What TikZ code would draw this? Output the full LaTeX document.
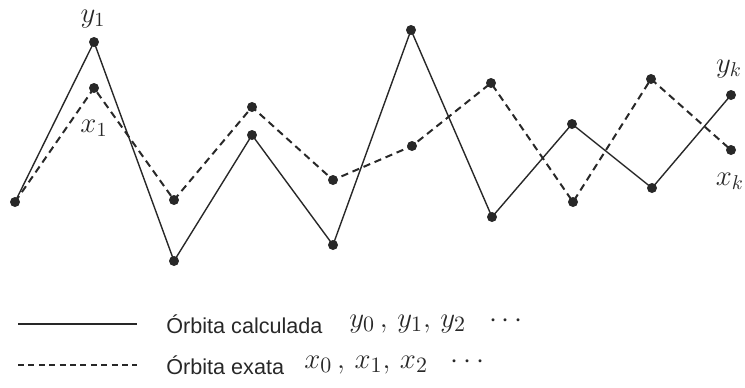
\documentclass[tikz,border=0pt]{standalone}
\usepackage{fontspec}
\usepackage{amsmath}
\newfontfamily\legendfont{Liberation Sans}
\usetikzlibrary{positioning,calc}
\definecolor{Odark}{RGB}{40, 40, 40}
\tikzset{
    orbpt/.style={
        circle, fill=Odark, draw=none, inner sep=0pt, minimum size=5pt
    },
    ocalc/.style={line width=0.7pt, Odark},
    oexact/.style={line width=1pt, Odark, dash pattern=on 3.6pt off 2.4pt},
    okey/.style={line width=1pt, Odark, dash pattern=on 3pt off 2.2pt},
    olab/.style={font=\Large, text=Odark, inner sep=0pt},
    otext/.style={font=\legendfont\fontsize{10.8}{13}\selectfont, text=Odark, anchor=west, inner sep=0pt},
    omath/.style={font=\fontsize{15}{18}\selectfont, text=Odark, anchor=west, inner sep=0pt},
}

\begin{document}
\begin{tikzpicture}[x=0.5pt, y=-0.5pt]

    \useasboundingbox (0,0) rectangle (745,387);

    % ── órbita calculada y ──────────────────────────────
    \node [orbpt] (y0) at (15,202) {};
    \node [orbpt] (y1) at (94,42)  {};
    \node [orbpt] (y2) at (174,261) {};
    \node [orbpt] (y3) at (252,135) {};
    \node [orbpt] (y4) at (333,245) {};
    \node [orbpt] (y5) at (411,30)  {};
    \node [orbpt] (y6) at (492,217) {};
    \node [orbpt] (y7) at (572,124) {};
    \node [orbpt] (y8) at (652,188) {};
    \node [orbpt] (y9) at (731,95)  {};

    % ── órbita exata x ──────────────────────────────────
    \coordinate (x0) at (y0);
    \node [orbpt] (x1) at (94,88)  {};
    \node [orbpt] (x2) at (174,200) {};
    \node [orbpt] (x3) at (252,107) {};
    \node [orbpt] (x4) at (333,180) {};
    \node [orbpt] (x5) at (412,146) {};
    \node [orbpt] (x6) at (491,83)  {};
    \node [orbpt] (x7) at (573,202) {};
    \node [orbpt] (x8) at (651,79)  {};
    \node [orbpt] (x9) at (731,150) {};

    % ── segmentos ───────────────────────────────────────
    \draw [ocalc] (y0.center) -- (y1.center) -- (y2.center) -- (y3.center) -- (y4.center)
        -- (y5.center) -- (y6.center) -- (y7.center) -- (y8.center) -- (y9.center);
    \draw [oexact] (x0) -- (x1.center) -- (x2.center) -- (x3.center) -- (x4.center)
        -- (x5.center) -- (x6.center) -- (x7.center) -- (x8.center) -- (x9.center);

    % ── rótulos ─────────────────────────────────────────
    \node [olab] (ly1) at (93,19)  {$y_1$};
    \node [olab] (lx1) at (94,128) {$x_1$};
    \node [olab] (lyk) at (729,69) {$y_k$};
    \node [olab] (lxk) at (730,181) {$x_k$};

    % ── legenda ─────────────────────────────────────────
    \coordinate (ka) at (18,324);
    \coordinate (kb) at (137,324);
    \coordinate (kc) at (18,365);
    \coordinate (kd) at (137,365);
    \draw [ocalc] (ka) -- (kb);
    \draw [okey] (kc) -- (kd);

    \node [otext] (t1) at (166,324) {Órbita calculada};
    \node [omath] (m1) at (349,324) {$y_0\,,\,y_1,\,y_2\ \ \cdots$};
    \node [otext] (t2) at (166,365) {Órbita exata};
    \node [omath] (m2) at (304,365) {$x_0\,,\,x_1,\,x_2\ \ \cdots$};

\end{tikzpicture}
\end{document}
